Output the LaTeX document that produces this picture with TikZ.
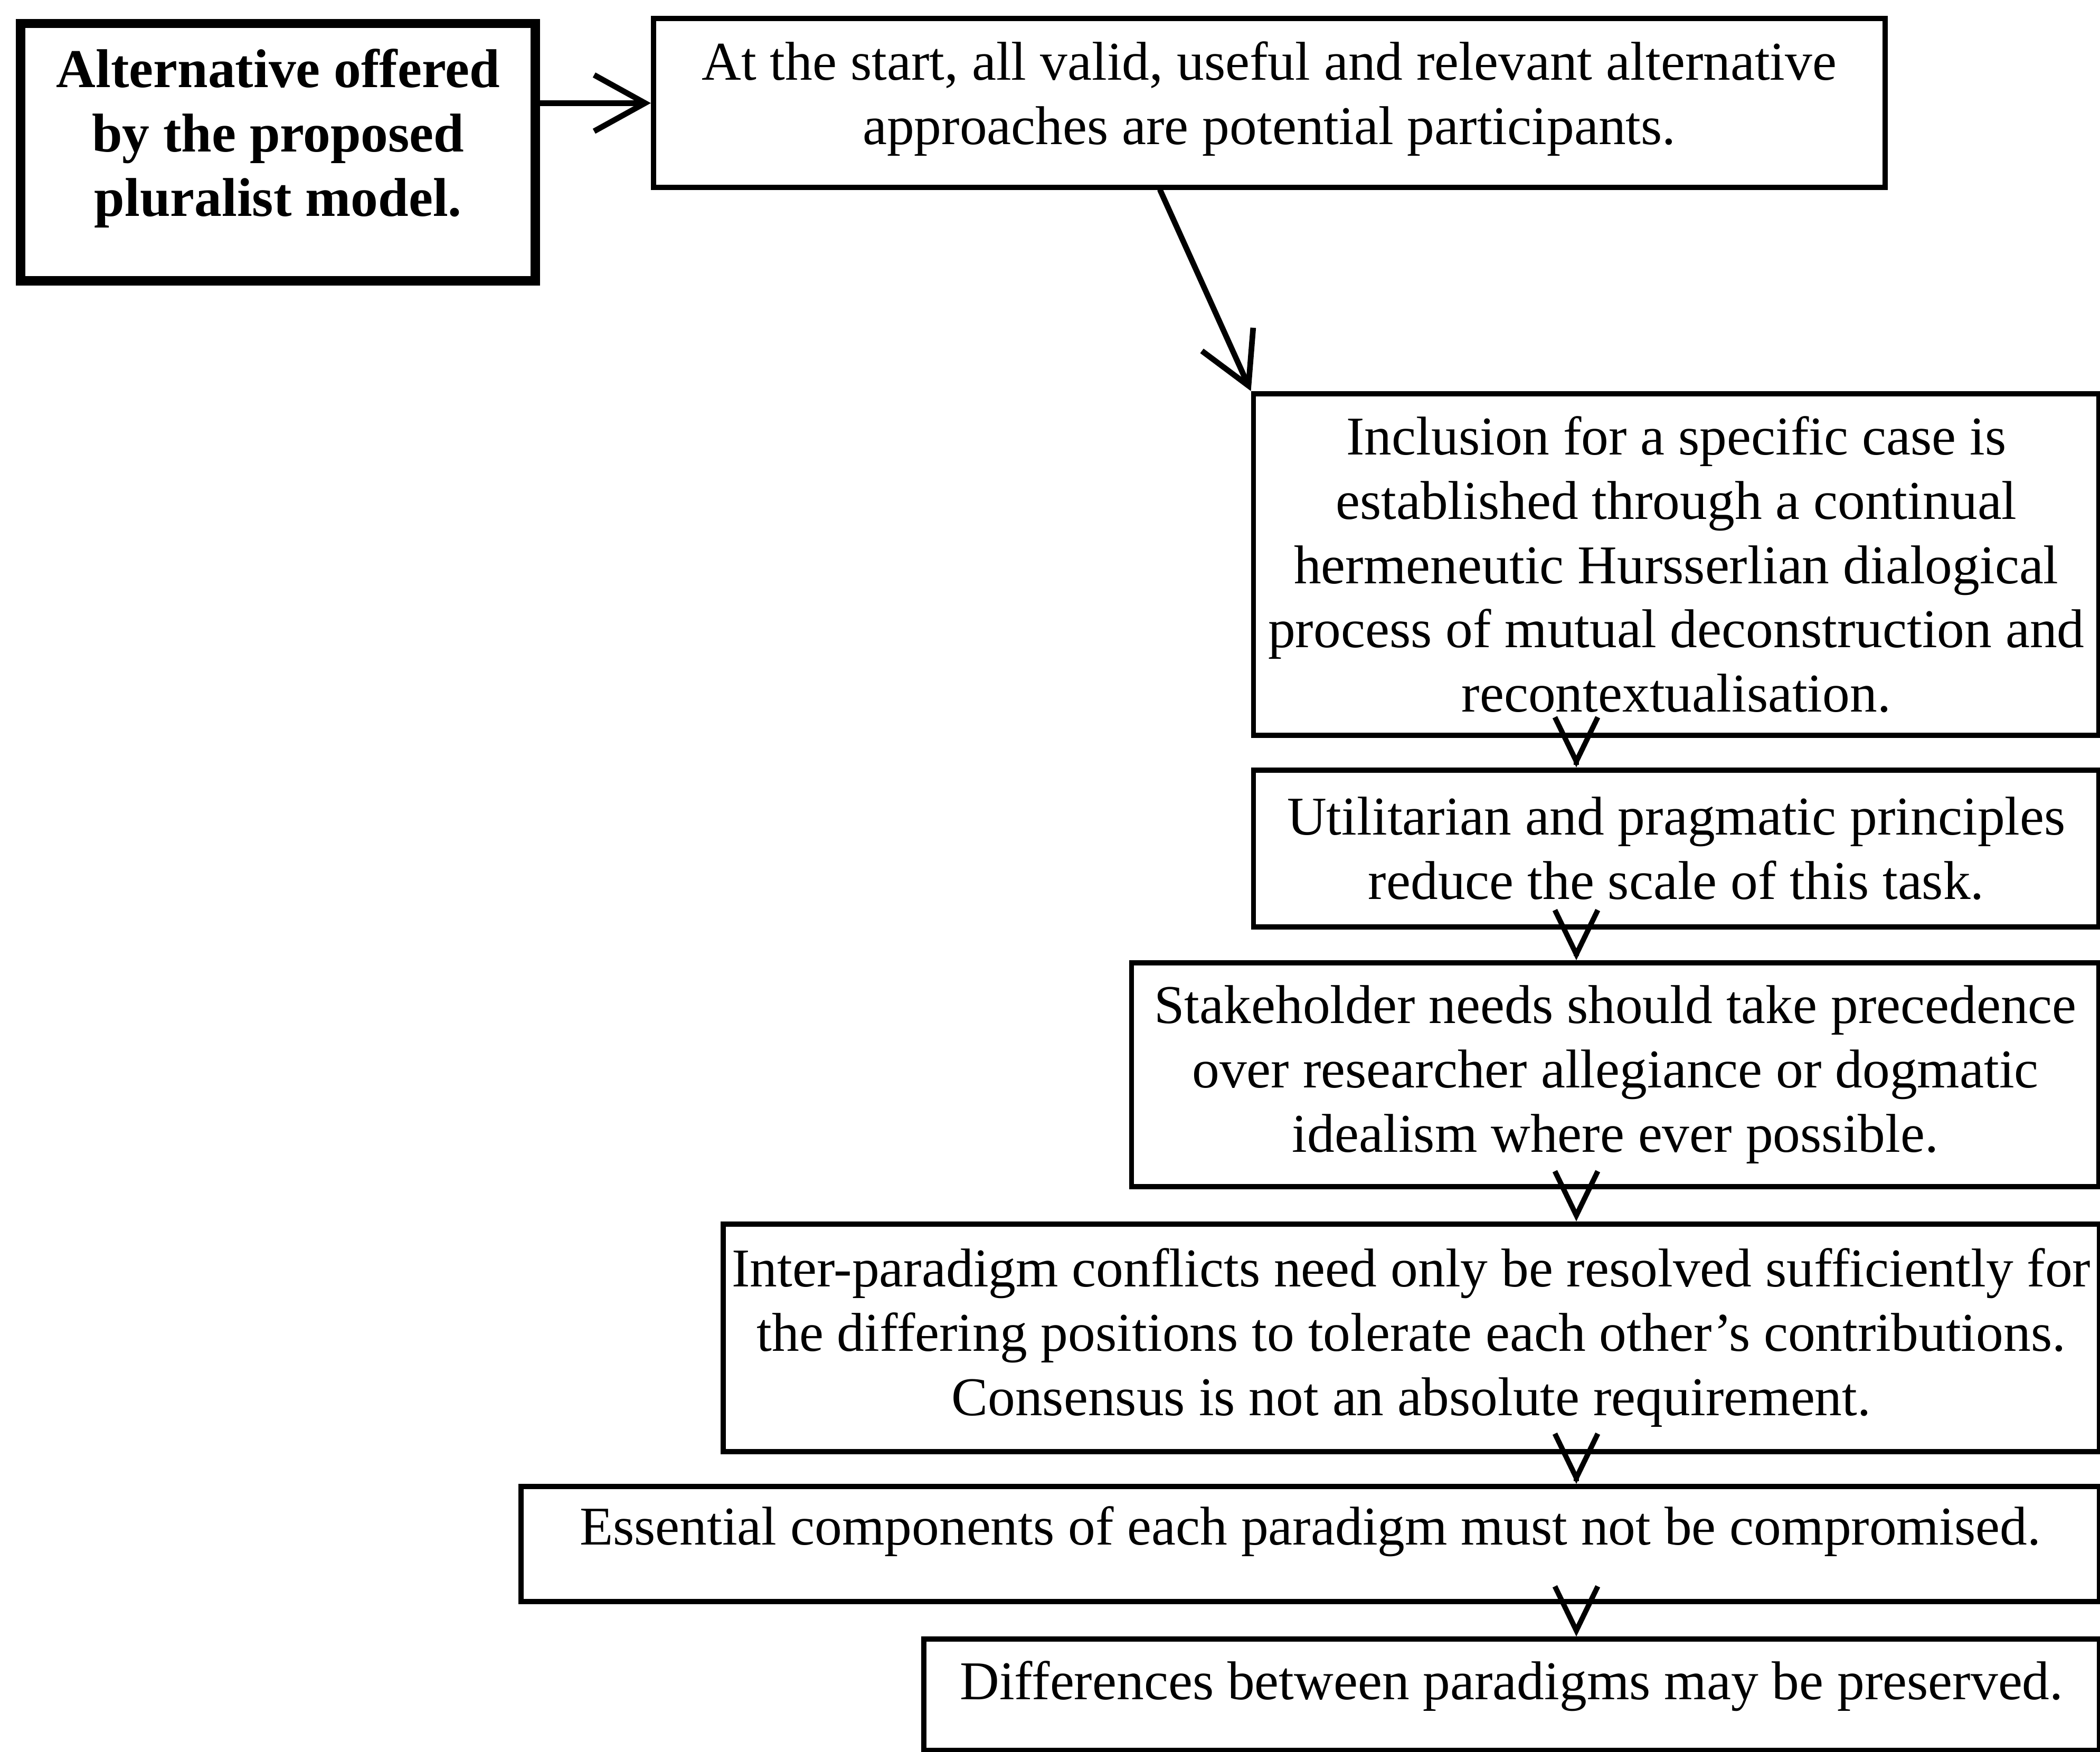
\documentclass[tikz,border=0pt]{standalone}
\usepackage{fontspec}
\setmainfont{Liberation Serif}
\usetikzlibrary{arrows.meta}
\newcommand{\lowpad}[1]{\rule[-#1]{0pt}{0pt}}
\begin{document}
\begin{tikzpicture}[x=0.01cm,y=-0.01cm,
  box/.style={draw, line width=1.1pt, rectangle, anchor=north west,
    inner sep=0pt, align=center,
    font=\fontsize{11.6}{13.66}\selectfont},
  headbox/.style={box, line width=2pt,
    font=\fontsize{11.6}{13.66}\selectfont\bfseries},
  link/.style={line width=1.2pt, line cap=round,
    -{Straight Barb[length=0.38cm,width=0.42cm]}},
  vlink/.style={line width=1.1pt, shorten <=0.2cm,
    -{Straight Barb[length=0.33cm,width=0.32cm]}}]
\useasboundingbox (0,0) rectangle (1568,1308);

% boxes
\node[headbox, minimum width=3.84cm, minimum height=1.92cm] (A) at (12,14)
  {Alternative offered\\by the proposed\\pluralist model.\lowpad{0.29cm}};
\node[box, minimum width=9.19cm, minimum height=1.26cm] (B) at (486,12)
  {At the start, all valid, useful and relevant alternative\\approaches are potential participants.\lowpad{0.15cm}};
\node[box, minimum width=6.31cm, minimum height=2.55cm] (C) at (934,292)
  {Inclusion for a specific case is\\established through a continual\\hermeneutic Hursserlian dialogical\\process of mutual deconstruction and\\recontextualisation.};
\node[box, minimum width=6.31cm, minimum height=1.17cm] (D) at (934,573)
  {Utilitarian and pragmatic principles\\reduce the scale of this task.};
\node[box, minimum width=7.22cm, minimum height=1.67cm] (E) at (843,717)
  {Stakeholder needs should take precedence\\over researcher allegiance or dogmatic\\idealism where ever possible.};
\node[box, minimum width=10.27cm, minimum height=1.70cm] (F) at (538,912)
  {Inter-paradigm conflicts need only be resolved sufficiently for\\the differing positions to tolerate each other’s contributions.\\Consensus is not an absolute requirement.};
\node[box, minimum width=11.78cm, minimum height=0.86cm,
  text height=8pt, text depth=7.7pt] (G) at (387,1108)
  {Essential components of each paradigm must not be compromised.};
\node[box, minimum width=8.77cm, minimum height=0.83cm,
  text height=8pt, text depth=6pt] (H) at (688,1222)
  {Differences between paradigms may be preserved.};

% connectors
\draw[link] (A.east |- B.west) -- (B.west);
\draw[link] ([xshift=3.8cm]B.south west) -- (C.north west);
\coordinate (vx) at (1177,0);
\draw[vlink] (C.south -| vx) -- (D.north -| vx);
\draw[vlink] (D.south -| vx) -- (E.north -| vx);
\draw[vlink] (E.south -| vx) -- (F.north -| vx);
\draw[vlink] (F.south -| vx) -- (G.north -| vx);
\draw[vlink] (G.south -| vx) -- (H.north -| vx);
\end{tikzpicture}
\end{document}
